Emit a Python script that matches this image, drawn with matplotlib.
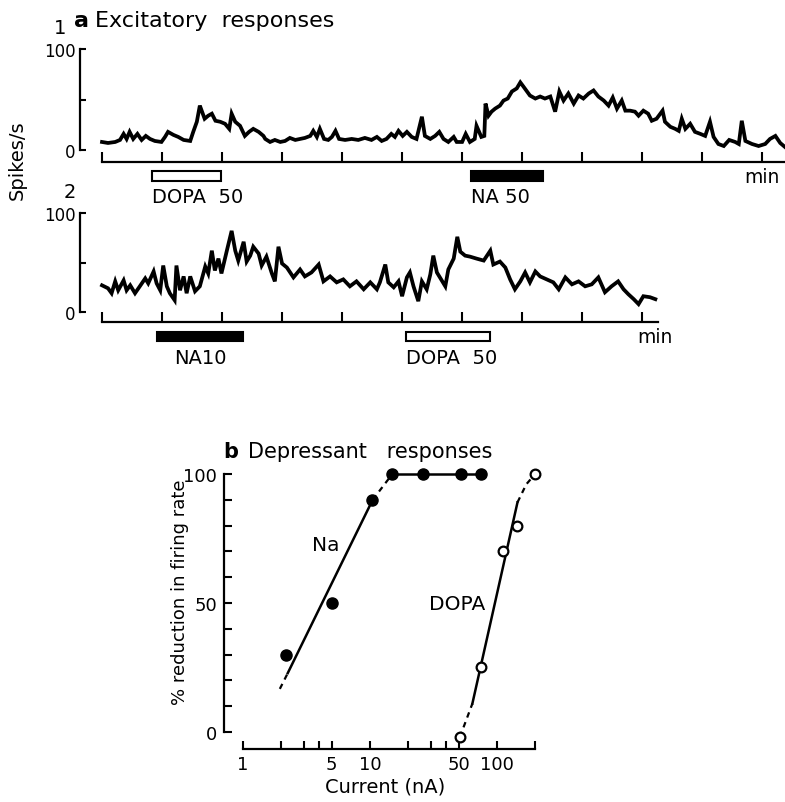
import matplotlib
matplotlib.use('Agg')
import matplotlib.pyplot as plt
from matplotlib.patches import Rectangle
from matplotlib.ticker import NullFormatter

plt.rcParams['font.family'] = ['DejaVu Sans']

# ---- panel a, trace 1: time (min) vs firing rate (spikes/s)
t1 = [0.0, 0.1, 0.22, 0.3, 0.36, 0.41, 0.46, 0.52, 0.59, 0.66, 0.73, 0.8, 0.88, 0.99,
      1.05, 1.1, 1.19, 1.27, 1.36, 1.47, 1.52, 1.58, 1.63, 1.71, 1.77, 1.83, 1.89, 1.97,
      2.05, 2.12, 2.16, 2.22, 2.3, 2.38, 2.45, 2.52, 2.61, 2.69,
      2.72, 2.8, 2.88, 2.97, 3.05, 3.13, 3.22, 3.3, 3.38, 3.47, 3.52, 3.58, 3.63, 3.7,
      3.77, 3.83, 3.89, 3.95, 4.05, 4.16, 4.27, 4.38, 4.49, 4.58, 4.66, 4.74, 4.82, 4.88,
      4.94, 5.01, 5.08, 5.16, 5.24, 5.33, 5.38, 5.47,
      5.55, 5.62, 5.69, 5.77, 5.86, 5.91, 6.0, 6.06, 6.13, 6.21, 6.24, 6.32, 6.37, 6.39,
      6.44, 6.49, 6.55, 6.63, 6.69, 6.76, 6.83, 6.91, 6.97, 7.02, 7.08, 7.13, 7.22, 7.3,
      7.38, 7.47, 7.55, 7.62, 7.69, 7.77, 7.86, 7.94, 8.02, 8.11, 8.19, 8.27, 8.36,
      8.44, 8.51, 8.58, 8.66, 8.72, 8.8, 8.88, 8.94, 9.02, 9.1, 9.16, 9.24, 9.34, 9.38,
      9.47, 9.55, 9.61, 9.66, 9.72, 9.8, 9.88, 9.97, 10.05, 10.13, 10.19, 10.27, 10.36,
      10.45, 10.55, 10.61, 10.66, 10.72, 10.83, 10.94, 11.05, 11.13, 11.22, 11.3, 11.38]
r1 = [8, 7, 8, 10, 16, 11, 18, 11, 16, 10, 14, 11, 9, 8,
      13, 18, 15, 13, 10, 9, 18, 28, 44, 31, 34, 36, 29, 28,
      26, 21, 36, 28, 24, 14, 18, 21, 18, 14,
      11, 8, 10, 8, 9, 12, 10, 11, 12, 14, 19, 13, 21, 11,
      10, 13, 19, 11, 10, 11, 10, 12, 10, 13, 9, 11, 16, 13,
      19, 14, 18, 13, 11, 33, 14, 11,
      14, 18, 11, 8, 13, 8, 8, 16, 8, 11, 24, 13, 14, 46,
      34, 38, 41, 44, 49, 51, 58, 61, 67, 63, 58, 54, 51, 53,
      51, 53, 38, 58, 49, 56, 46, 54, 51, 56, 59, 53, 49,
      44, 52, 41, 49, 39, 39, 38, 34, 39, 36, 29, 31, 39, 28,
      23, 21, 19, 31, 21, 26, 18, 16, 14, 28, 13, 6, 4,
      10, 8, 6, 29, 9, 6, 4, 6, 11, 14, 7, 3]

# ---- panel a, trace 2
t2 = [0.0, 0.1, 0.16, 0.22, 0.27, 0.36, 0.41, 0.47, 0.55, 0.63, 0.72, 0.77, 0.86, 0.91,
      0.97, 1.02, 1.08, 1.13, 1.21, 1.24, 1.3, 1.36, 1.41, 1.47, 1.55, 1.63, 1.72, 1.77,
      1.83, 1.88, 1.94, 1.99, 2.08, 2.16, 2.22, 2.27, 2.36, 2.41, 2.47, 2.52, 2.61, 2.66,
      2.74, 2.83, 2.88, 2.94, 3.0,
      3.08, 3.19, 3.3, 3.38, 3.49, 3.61, 3.69, 3.8, 3.91, 4.02, 4.13, 4.24, 4.36, 4.47, 4.58,
      4.63, 4.72, 4.77, 4.86, 4.94, 5.0, 5.08, 5.13, 5.19, 5.27, 5.33, 5.41, 5.47, 5.52,
      5.58, 5.63, 5.72, 5.77, 5.86, 5.92, 5.97, 6.05, 6.13, 6.24, 6.36, 6.47, 6.52, 6.63,
      6.72, 6.8, 6.88, 6.97, 7.05, 7.13, 7.22, 7.3, 7.41, 7.52, 7.61, 7.72, 7.83, 7.94,
      8.05, 8.16, 8.27, 8.38, 8.49, 8.6, 8.69, 8.77, 8.86, 8.94, 9.02, 9.13, 9.22]
r2 = [27, 24, 19, 31, 22, 32, 22, 27, 19, 26, 34, 29, 41, 29,
      22, 47, 26, 19, 12, 47, 22, 36, 19, 36, 21, 26, 46, 39,
      62, 42, 54, 39, 62, 82, 62, 52, 71, 51, 57, 66, 59, 47,
      56, 39, 31, 66, 49,
      45, 35, 43, 36, 40, 48, 31, 36, 30, 33, 26, 31, 23, 30, 23,
      30, 48, 30, 25, 31, 16, 35, 40, 26, 11, 31, 23, 38, 57,
      40, 35, 26, 43, 54, 76, 61, 57, 56, 54, 52, 62, 48, 51,
      45, 33, 23, 31, 40, 30, 41, 36, 33, 30, 23, 35, 28, 31,
      26, 28, 35, 20, 26, 31, 23, 18, 13, 8, 16, 15, 13]

# drug applications: label, start (min), end (min), filled
drugs1 = [('DOPA  50', 0.83, 1.98, False), ('NA 50', 6.15, 7.35, True)]
drugs2 = [('NA10', 0.92, 2.35, True), ('DOPA  50', 5.07, 6.47, False)]

# ---- panel b: % reduction vs current (nA)
na_x = [2.2, 5.0, 10.4, 15, 26, 52, 75]
na_y = [30, 50, 90, 100, 100, 100, 100]
na_fit_x = [2.25, 10.5]
na_fit_y = [22.8, 90]
na_lo_x = [1.95, 2.25]
na_lo_y = [16.7, 22.8]
na_hi_x = [10.5, 15]
na_hi_y = [90, 100]

dopa_x = [51, 75, 112, 145, 200]
dopa_y = [-2, 25, 70, 80, 100]
dopa_fit_x = [64, 145]
dopa_fit_y = [11, 89]
dopa_lo_x = [51, 64]
dopa_lo_y = [-2, 11]
dopa_hi_x = [145, 170, 200]
dopa_hi_y = [89, 96, 100]

W, H = 785, 803


def fx(px):
    return px / W


def fy(py):
    return 1 - py / H


fig = plt.figure(figsize=(W / 100, H / 100), dpi=100)


def trace_panel(rect, t, r, axis_y, tmax, nticks, drugs, bar_y, min_pos):
    ax = fig.add_axes(rect)
    ax.patch.set_visible(False)
    ax.plot(t, r, color='black', lw=2.7, solid_joinstyle='miter')
    ax.set_xlim(-0.45, 11.38)
    ax.set_ylim(-15, 105)
    for s in ['top', 'right']:
        ax.spines[s].set_visible(False)
    ax.spines['left'].set_position(('data', -0.367))
    ax.spines['left'].set_bounds(0, 100)
    ax.spines['bottom'].set_position(('data', axis_y))
    ax.spines['bottom'].set_bounds(0, tmax)
    for s in ['left', 'bottom']:
        ax.spines[s].set_linewidth(1.6)
    ax.set_yticks([0, 50, 100], ['0', '', '100'])
    ax.set_xticks(range(nticks), [''] * nticks)
    ax.tick_params(axis='y', direction='in', length=4, width=1.5, labelsize=12, pad=3)
    ax.tick_params(axis='x', direction='in', length=7, width=1.5)
    for label, start, end, filled in drugs:
        ax.add_patch(Rectangle((start, bar_y[0]), end - start, bar_y[1] - bar_y[0],
                               facecolor='black' if filled else 'white',
                               edgecolor='black', lw=1.5, clip_on=False))
        if label == 'NA10':
            ax.text((start + end) / 2, -45.5, label, ha='center', va='center', fontsize=14)
        else:
            ax.text(start, -45.5, label, ha='left', va='center', fontsize=14)
    ax.text(min_pos[0], min_pos[1], 'min', ha='left', va='center', fontsize=13.5)
    return ax


# axes rects from pixel positions
ax1 = trace_panel([fx(75), fy(166.2), fx(785) - fx(75), 121.2 / H], t1, r1,
                  -11.9, 11.38, 12, drugs1, (-30.4, -20.5), (10.7, -25.7))
ax2 = trace_panel([fx(75), fy(327.9), fx(785) - fx(75), 118.8 / H], t2, r2,
                  -10.1, 9.27, 10, drugs2, (-29.3, -20.2), (8.92, -24.2))

fig.text(fx(60), fy(29), '1', ha='center', va='center', fontsize=14)
fig.text(fx(70), fy(193), '2', ha='center', va='center', fontsize=14)
fig.text(fx(17), fy(160), 'Spikes/s', ha='center', va='center', rotation=90, fontsize=14)
fig.text(fx(74), fy(27), 'a', ha='left', va='baseline', fontsize=16, weight='bold')
fig.text(fx(95), fy(27), 'Excitatory  responses', ha='left', va='baseline', fontsize=16)

# ---- panel b
axb = fig.add_axes([fx(224), fy(753.6), fx(545) - fx(224), 291.5 / H])
axb.patch.set_visible(False)
axb.set_xscale('log')
axb.set_xlim(0.7085, 238.8)
axb.set_ylim(-8, 105)
for s in ['top', 'right']:
    axb.spines[s].set_visible(False)
axb.spines['left'].set_bounds(0, 100)
axb.spines['bottom'].set_position(('data', -6.6))
axb.spines['bottom'].set_bounds(1, 200)
for s in ['left', 'bottom']:
    axb.spines[s].set_linewidth(1.6)
axb.set_xticks([1, 5, 10, 50, 100], ['1', '5', '10', '50', '100'])
axb.set_xticks([2, 3, 4, 20, 30, 40, 200], minor=True)
axb.xaxis.set_minor_formatter(NullFormatter())
axb.set_yticks([0, 50, 100], ['0', '50', '100'])
axb.set_yticks([10, 20, 30, 40, 60, 70, 80, 90], minor=True)
axb.tick_params(which='both', direction='in', length=6, width=1.5, labelsize=13)
axb.tick_params(axis='y', pad=5)
axb.tick_params(axis='x', pad=4)

dash = dict(color='black', lw=1.6, dashes=[2.5, 2.2])
solid = dict(color='black', lw=1.8)
axb.plot(na_fit_x, na_fit_y, **solid)
axb.plot(na_lo_x, na_lo_y, **dash)
axb.plot(na_hi_x, na_hi_y, **dash)
axb.plot(na_x[3:], na_y[3:], **solid)
axb.plot(na_x, na_y, 'o', color='black', ms=8, clip_on=False, zorder=3)

axb.plot(dopa_fit_x, dopa_fit_y, **solid)
axb.plot(dopa_lo_x, dopa_lo_y, **dash)
axb.plot(dopa_hi_x, dopa_hi_y, **dash)
axb.plot(dopa_x, dopa_y, 'o', mfc='white', mec='black', mew=1.6, ms=7,
         clip_on=False, zorder=3)

axb.text(3.5, 70.5, 'Na', ha='left', va='baseline', fontsize=14.5)
axb.text(29.2, 47.7, 'DOPA', ha='left', va='baseline', fontsize=14.5)

fig.text(fx(180), fy(592), '% reduction in firing rate', ha='center', va='center',
         rotation=90, fontsize=13)
fig.text(fx(385), fy(787), 'Current (nA)', ha='center', va='center', fontsize=14)
fig.text(fx(223), fy(458), 'b', ha='left', va='baseline', fontsize=15, weight='bold')
fig.text(fx(248), fy(458), 'Depressant   responses', ha='left', va='baseline', fontsize=15)

fig.savefig('out.png', dpi=100)
